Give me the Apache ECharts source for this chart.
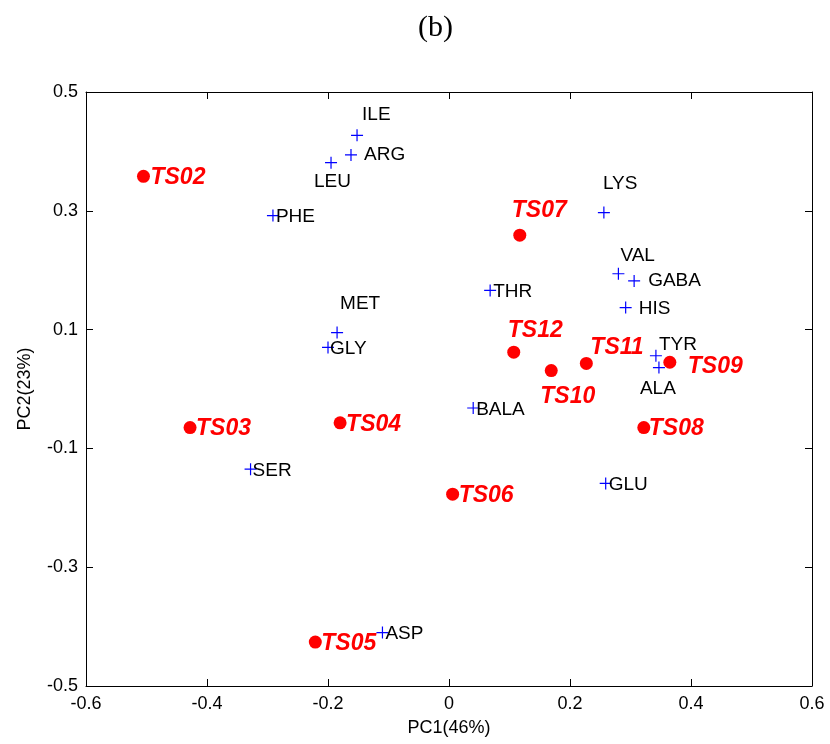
<!DOCTYPE html>
<html><head><meta charset="utf-8">
<script src="https://cdn.jsdelivr.net/npm/echarts@6/dist/echarts.min.js"></script>
<style>html,body{margin:0;padding:0;background:#fff}#c{width:830px;height:744px}</style>
</head><body><div id="c"></div>
<script>
// ---- data ----
const sampleNames = ['TS02','TS03','TS04','TS05','TS06','TS07','TS08','TS09','TS10','TS11','TS12'];
const samplePC1 = [-0.505,-0.428,-0.180,-0.221,0.006,0.117,0.322,0.365,0.169,0.227,0.107];
const samplePC2 = [0.358,-0.065,-0.057,-0.426,-0.177,0.259,-0.065,0.045,0.031,0.043,0.062];
const varNames = ['ILE','ARG','LEU','PHE','MET','GLY','LYS','VAL','GABA','HIS','THR','TYR','ALA','BALA','GLU','SER','ASP'];
const varPC1 = [-0.152,-0.162,-0.195,-0.291,-0.185,-0.200,0.256,0.280,0.306,0.292,0.068,0.342,0.347,0.040,0.259,-0.328,-0.110];
const varPC2 = [0.427,0.394,0.381,0.292,0.095,0.070,0.297,0.194,0.182,0.137,0.166,0.056,0.036,-0.032,-0.159,-0.135,-0.410];
const xTicks = [-0.6,-0.4,-0.2,0,0.2,0.4,0.6];
const yTicks = [-0.5,-0.3,-0.1,0.1,0.3,0.5];
const titleText = '(b)';
const xName = 'PC1(46%)';
const yName = 'PC2(23%)';

// ---- label placement (layout only, pixel offsets of text start from the mark) ----
const sampleLabelOffset = {
  TS02:[7,0], TS03:[6,0], TS04:[6,0], TS05:[6,0], TS06:[6,0], TS07:[-8,-26],
  TS08:[5,0], TS09:[18,3], TS10:[-11,25], TS11:[4,-17], TS12:[-6,-23]
};
const varLabelOffset = {
  ILE:[5,-22], ARG:[13,-2], LEU:[-17,18], PHE:[3,0], MET:[3,-30], GLY:[2,0],
  LYS:[-1,-30], VAL:[2,-19], GABA:[14,-2], HIS:[13,0], THR:[3,0], TYR:[3,-12],
  ALA:[-19,20], BALA:[3,0], GLU:[3,0], SER:[2,0], ASP:[3,0]
};
const labelDy = 1.5;

const fmt = v => String(+(+v).toFixed(1));
const plusPath = 'path://M6.3,0H7.7V6.3H14V7.7H7.7V14H6.3V7.7H0V6.3H6.3Z';

const varData = varNames.map((n,i)=>({
  value:[varPC1[i], varPC2[i]], name:n,
  label:{offset: [varLabelOffset[n][0], varLabelOffset[n][1] + labelDy]}
}));
const sampleData = sampleNames.map((n,i)=>({
  value:[samplePC1[i], samplePC2[i]], name:n,
  label:{offset: [sampleLabelOffset[n][0], sampleLabelOffset[n][1] + labelDy]}
}));

const axisCommon = {
  axisLine:{show:true, onZero:false, lineStyle:{color:'#000', width:1}},
  axisTick:{show:true, inside:true, length:7, lineStyle:{color:'#000', width:1}},
  splitLine:{show:false}
};

const chart = echarts.init(document.getElementById('c'), null, {renderer:'canvas'});
chart.setOption({
  animation:false,
  backgroundColor:'#fff',
  title:{text:titleText, left:413, top:8,
    textStyle:{fontFamily:'Liberation Serif', fontWeight:'normal', fontSize:30, color:'#000'}},
  grid:{left:86, right:18, top:92, bottom:58, containLabel:false},
  xAxis:[
    Object.assign({type:'value', position:'bottom', min:xTicks[0], max:xTicks[xTicks.length-1],
      interval:xTicks[1]-xTicks[0],
      name:xName, nameLocation:'middle', nameGap:33,
      nameTextStyle:{fontFamily:'Liberation Sans', fontSize:18, color:'#000'},
      axisLabel:{show:true, margin:9, formatter:fmt, fontFamily:'Liberation Sans', fontSize:18, color:'#000'}
    }, axisCommon),
    Object.assign({type:'value', position:'top', min:xTicks[0], max:xTicks[xTicks.length-1],
      interval:xTicks[1]-xTicks[0], axisLabel:{show:false}}, axisCommon)
  ],
  yAxis:[
    Object.assign({type:'value', position:'left', min:yTicks[0], max:yTicks[yTicks.length-1],
      interval:yTicks[1]-yTicks[0],
      name:yName, nameLocation:'middle', nameGap:52, nameRotate:90,
      nameTextStyle:{fontFamily:'Liberation Sans', fontSize:18, color:'#000'},
      axisLabel:{show:true, margin:8, formatter:fmt, fontFamily:'Liberation Sans', fontSize:18, color:'#000'}
    }, axisCommon),
    Object.assign({type:'value', position:'right', min:yTicks[0], max:yTicks[yTicks.length-1],
      interval:yTicks[1]-yTicks[0], axisLabel:{show:false}}, axisCommon)
  ],
  series:[
    {
      type:'scatter', name:'variables', xAxisIndex:0, yAxisIndex:0,
      symbol:plusPath, symbolSize:12,
      itemStyle:{color:'#0000ff', opacity:1},
      label:{show:true, position:'inside', align:'left', verticalAlign:'middle',
        formatter:'{b}', fontFamily:'Liberation Sans', fontSize:19, color:'#000'},
      emphasis:{disabled:true},
      data:varData, z:2
    },
    {
      type:'scatter', name:'samples', xAxisIndex:0, yAxisIndex:0,
      symbol:'circle', symbolSize:13,
      itemStyle:{color:'#ff0000', opacity:1},
      label:{show:true, position:'inside', align:'left', verticalAlign:'middle',
        formatter:'{b}', fontFamily:'Liberation Sans', fontSize:23, fontWeight:'bold', fontStyle:'italic', color:'#ff0000'},
      emphasis:{disabled:true},
      data:sampleData, z:3
    }
  ]
});
</script>
</body></html>
